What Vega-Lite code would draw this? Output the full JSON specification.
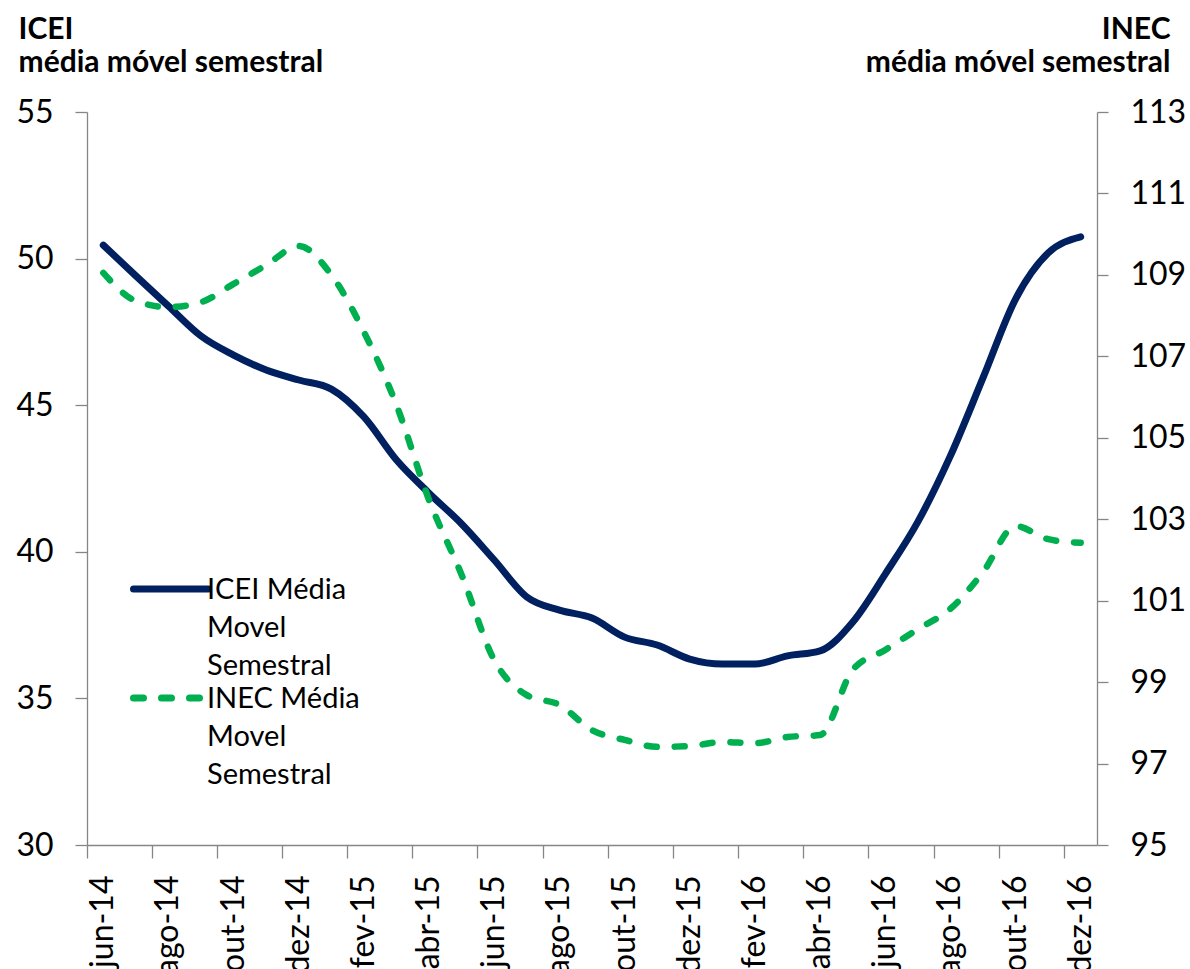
{
  "$schema": "https://vega.github.io/schema/vega-lite/v6.json",
  "width": 1010,
  "height": 733,
  "autosize": {"type": "none"},
  "padding": {"left": 87, "top": 112, "right": 93, "bottom": 124},
  "background": "white",
  "config": {
    "font": "Lato",
    "view": {"stroke": null},
    "axis": {
      "grid": false,
      "domainColor": "#868686",
      "tickColor": "#868686",
      "domainWidth": 1.3,
      "tickWidth": 1.3,
      "labelColor": "#000000",
      "labelFont": "Lato",
      "labelFontSize": 32,
      "titleColor": "#000000",
      "titleFont": "Lato"
    },
    "legend": {
      "orient": "none",
      "legendX": 43,
      "title": null,
      "padding": 0,
      "symbolType": "stroke",
      "symbolSize": 5625,
      "symbolStrokeWidth": 7,
      "labelFont": "Lato",
      "labelFontSize": 29,
      "labelColor": "#000000",
      "labelLimit": 0,
      "labelOffset": -5,
      "labelBaseline": "alphabetic"
    }
  },
  "data": {
    "values": [
      {"m": "jun-14", "icei": 50.46, "inec": 109.05},
      {"m": "jul-14", "icei": 49.41, "inec": 108.36},
      {"m": "ago-14", "icei": 48.38, "inec": 108.21},
      {"m": "set-14", "icei": 47.36, "inec": 108.33},
      {"m": "out-14", "icei": 46.71, "inec": 108.78},
      {"m": "nov-14", "icei": 46.2, "inec": 109.24},
      {"m": "dez-14", "icei": 45.86, "inec": 109.71},
      {"m": "jan-15", "icei": 45.55, "inec": 109.0},
      {"m": "fev-15", "icei": 44.6, "inec": 107.6},
      {"m": "mar-15", "icei": 43.13, "inec": 105.8},
      {"m": "abr-15", "icei": 42.0, "inec": 103.47},
      {"m": "mai-15", "icei": 40.95, "inec": 101.63},
      {"m": "jun-15", "icei": 39.72, "inec": 99.54},
      {"m": "jul-15", "icei": 38.46, "inec": 98.68},
      {"m": "ago-15", "icei": 38.01, "inec": 98.44},
      {"m": "set-15", "icei": 37.74, "inec": 97.82},
      {"m": "out-15", "icei": 37.09, "inec": 97.58},
      {"m": "nov-15", "icei": 36.82, "inec": 97.41},
      {"m": "dez-15", "icei": 36.34, "inec": 97.43},
      {"m": "jan-16", "icei": 36.17, "inec": 97.53},
      {"m": "fev-16", "icei": 36.17, "inec": 97.5},
      {"m": "mar-16", "icei": 36.45, "inec": 97.65},
      {"m": "abr-16", "icei": 36.62, "inec": 97.7},
      {"m": "mai-16", "icei": 37.6, "inec": 99.3},
      {"m": "jun-16", "icei": 39.24, "inec": 99.79},
      {"m": "jul-16", "icei": 41.02, "inec": 100.3},
      {"m": "ago-16", "icei": 43.27, "inec": 100.8},
      {"m": "set-16", "icei": 45.93, "inec": 101.7},
      {"m": "out-16", "icei": 48.62, "inec": 102.83},
      {"m": "nov-16", "icei": 50.19, "inec": 102.51},
      {"m": "dez-16", "icei": 50.74, "inec": 102.42}
    ]
  },
  "encoding": {
    "x": {
      "field": "m",
      "type": "ordinal",
      "sort": null,
      "scale": {"type": "band", "paddingInner": 0, "paddingOuter": 0},
      "axis": {
        "title": null,
        "values": ["jun-14", "ago-14", "out-14", "dez-14", "fev-15", "abr-15", "jun-15", "ago-15", "out-15", "dez-15", "fev-16", "abr-16", "jun-16", "ago-16", "out-16", "dez-16"],
        "labelAngle": -90,
        "bandPosition": 0,
        "tickSize": 13,
        "labelPadding": 17
      }
    }
  },
  "layer": [
    {
      "mark": {"type": "line", "interpolate": "monotone", "strokeWidth": 7, "strokeCap": "round", "strokeJoin": "round"},
      "encoding": {
        "y": {
          "field": "icei",
          "type": "quantitative",
          "scale": {"domain": [30, 55], "nice": false, "zero": false},
          "axis": {
            "orient": "left",
            "values": [30, 35, 40, 45, 50, 55],
            "tickSize": 12,
            "labelPadding": 22,
            "title": ["ICEI", "média móvel semestral"],
            "titleAngle": 0,
            "titleAlign": "left",
            "titleBaseline": "top",
            "titleX": -69,
            "titleY": -98,
            "titleFontSize": 30,
            "titleFontWeight": "bold",
            "titleLineHeight": 33
          }
        },
        "color": {
          "datum": "ICEI Média|Movel|Semestral",
          "type": "nominal",
          "scale": {"domain": ["ICEI Média|Movel|Semestral"], "range": ["#002060"]},
          "legend": {
            "legendY": 436,
            "labelExpr": "split(datum.label, '|')",
            "encode": {
              "labels": {"update": {"dy": {"value": 10}, "lineHeight": {"value": 38}}},
              "symbols": {"update": {"strokeCap": {"value": "round"}}}
            }
          }
        }
      }
    },
    {
      "mark": {"type": "line", "interpolate": "monotone", "strokeWidth": 6.5, "strokeCap": "round", "strokeJoin": "round", "strokeDash": [10, 18]},
      "encoding": {
        "y": {
          "field": "inec",
          "type": "quantitative",
          "scale": {"domain": [95, 113], "nice": false, "zero": false},
          "axis": {
            "orient": "right",
            "values": [95, 97, 99, 101, 103, 105, 107, 109, 111, 113],
            "tickSize": 11,
            "labelPadding": 22,
            "title": ["INEC", "média móvel semestral"],
            "titleAngle": 0,
            "titleAlign": "right",
            "titleBaseline": "top",
            "titleX": 73,
            "titleY": -98,
            "titleFontSize": 30,
            "titleFontWeight": "bold",
            "titleLineHeight": 33
          }
        },
        "color": {
          "datum": "INEC Média|Movel|Semestral",
          "type": "nominal",
          "scale": {"domain": ["INEC Média|Movel|Semestral"], "range": ["#00B050"]},
          "legend": {
            "legendY": 545,
            "symbolDash": [10, 18],
            "labelExpr": "split(datum.label, '|')",
            "encode": {
              "labels": {"update": {"dy": {"value": 10}, "lineHeight": {"value": 38}}},
              "symbols": {"update": {"strokeCap": {"value": "round"}}}
            }
          }
        }
      }
    }
  ],
  "resolve": {
    "scale": {"y": "independent", "color": "independent"},
    "legend": {"color": "independent"}
  }
}
